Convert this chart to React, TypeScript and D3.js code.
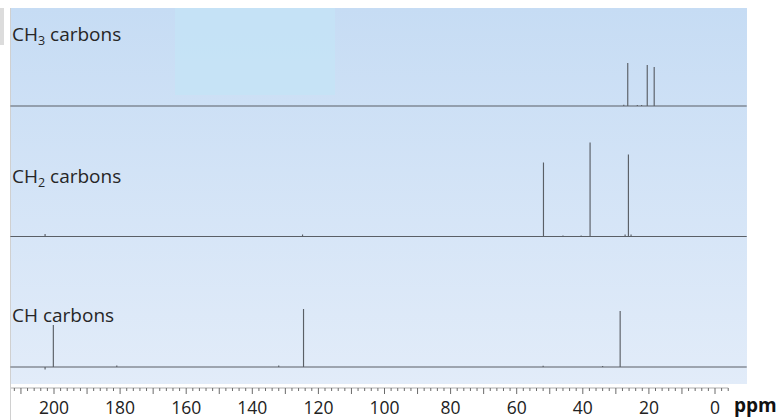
import React from "react";
import * as d3 from "d3";

// peaks: [ppm, height]
const panelNames = ["CH3", "CH2", "CH"];
const ch3Peaks = [[26.4, 43], [20.5, 41], [18.4, 39], [27.6, 1.2], [23.5, 1], [22.2, 1]];
const ch2Peaks = [[202.7, 2.5], [124.8, 2], [51.9, 74], [46, 1], [40.5, 1], [37.8, 94], [27.2, 2], [26.2, 82], [25.4, 2]];
const chPeaks = [[202.7, -2.5], [200.2, 42], [181, 1.5], [132, 1.5], [124.5, 58], [52, 1.2], [34, 1], [28.7, 56]];
const panelPeaks = [ch3Peaks, ch2Peaks, chPeaks];
const tickLabels = [200, 180, 160, 140, 120, 100, 80, 60, 40, 20, 0];

const W = 778, H = 420;

function App() {
  const x = d3.scaleLinear().domain([200, 0]).range([54, 715]);
  const baseY = d3.scaleLinear().domain([0, 2]).range([106, 367]);
  const line = d3.line<[number, number]>().x(d => d[0]).y(d => d[1]);

  const left = x(213.2), right = x(-9.6);

  const spectra = panelPeaks.map((peaks, i) => {
    const b = baseY(i);
    const h = d3.scaleLinear().domain([0, 100]).range([b, b - 100]);
    const sorted = [...peaks].sort((a, c) => c[0] - a[0]);
    const pts: [number, number][] = [[left, b]];
    sorted.forEach(p => {
      const px = x(p[0]);
      pts.push([px, b], [px, h(p[1])], [px + 0.01, b]);
    });
    pts.push([right, b]);
    return <path key={i} d={line(pts) || ""} fill="none" stroke="#5a5f66" strokeWidth={1.15} />;
  });

  const minorTicks = d3.range(-4, 213, 2);

  const labelY = [41, 183, 322];

  return (
    <svg width={W} height={H} style={{ position: "absolute", left: 0, top: 0 }}
      fontFamily="'Open Sans', sans-serif">
      <defs>
        <linearGradient id="bg" x1="0" y1="0" x2="0" y2="1">
          <stop offset="0" stopColor="#c6dcf4" />
          <stop offset="1" stopColor="#e2ecf9" />
        </linearGradient>
      </defs>
      <rect x={0} y={0} width={W} height={H} fill="#fff" />
      <rect x={0} y={8} width={4} height={37} fill="#dcdcdc" />
      <line x1={10.5} x2={10.5} y1={8} y2={H} stroke="#d0d0d0" />
      <rect x={11} y={8} width={736} height={376} fill="url(#bg)" />
      <rect x={175} y={8} width={160} height={87} fill="#c4e4f6" opacity={0.8} />
      {spectra}
      {panelNames.map((n, i) => (
        <text key={n} x={12} y={labelY[i]} fontSize={19} fill="#262626">
          CH
          {n !== "CH" && <tspan fontSize={12.5} dy={4}>{n.slice(2)}</tspan>}
          <tspan dy={n !== "CH" ? -4 : 0}>{" carbons"}</tspan>
        </text>
      ))}
      <g>
        <line x1={x(213)} x2={x(-4)} y1={388} y2={388} stroke="#9a9a9a" strokeWidth={0.8} />
        {minorTicks.map(t => (
          <line key={t} x1={x(t)} x2={x(t)} y1={388} y2={t % 10 === 0 ? 394 : 391}
            stroke="#6a6a6a" strokeWidth={1} />
        ))}
        {tickLabels.map(t => (
          <text key={t} x={x(t)} y={414} fontSize={17.5} textAnchor="middle" fill="#222">{t}</text>
        ))}
        <text x={734} y={412} fontSize={19} fontWeight="bold" fill="#111">ppm</text>
      </g>
    </svg>
  );
}

export default App;
